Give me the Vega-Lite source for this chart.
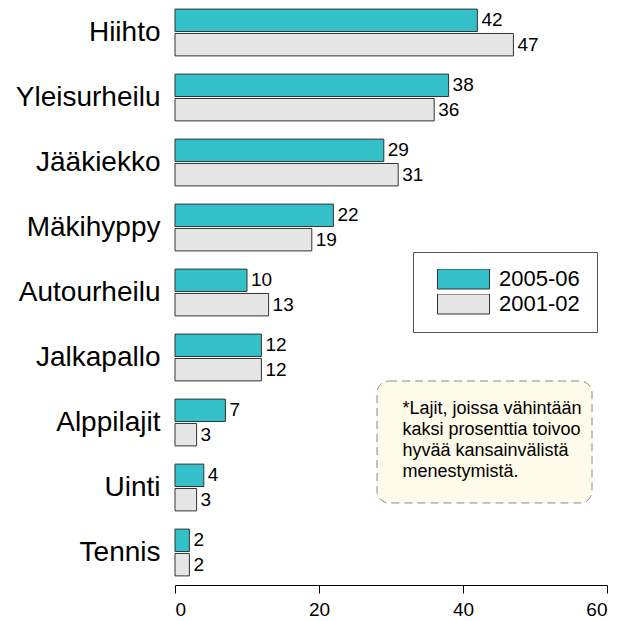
{
  "$schema": "https://vega.github.io/schema/vega-lite/v6.json",
  "width": 432,
  "height": 585,
  "autosize": {"type": "none"},
  "padding": {"left": 175, "top": 0, "right": 15, "bottom": 36},
  "background": "white",
  "config": {"view": {"stroke": null}, "font": "Liberation Sans"},
  "layer": [
    {
      "data": {"values": [{}]},
      "layer": [
        {
          "mark": {"type": "rect", "fill": "#FEFBEA", "stroke": "#888888", "strokeDash": [8, 5], "strokeWidth": 1, "cornerRadius": 12},
          "encoding": {
            "x": {"datum": 28.06, "type": "quantitative", "scale": {"domain": [0, 60], "nice": false}},
            "x2": {"datum": 57.92},
            "y": {"datum": 5.862, "type": "quantitative", "scale": {"domain": [0, 9], "reverse": true, "nice": false, "zero": false}, "axis": null},
            "y2": {"datum": 7.738}
          }
        },
        {
          "mark": {"type": "text", "text": ["*Lajit, joissa vähintään", "\u00a0kaksi prosenttia toivoo", "\u00a0hyvää kansainvälistä", "\u00a0menestymistä."], "align": "left", "baseline": "alphabetic", "fontSize": 18, "lineHeight": 21, "color": "black", "font": "Liberation Sans"},
          "encoding": {
            "x": {"datum": 31.6, "type": "quantitative"},
            "y": {"datum": 6.375, "type": "quantitative", "scale": {"domain": [0, 9], "reverse": true, "nice": false, "zero": false}, "axis": null}
          }
        }
      ]
    },
    {
      "data": {
        "values": [
          {"sport": "Hiihto", "period": "2005-06", "value": 42},
          {"sport": "Hiihto", "period": "2001-02", "value": 47},
          {"sport": "Yleisurheilu", "period": "2005-06", "value": 38},
          {"sport": "Yleisurheilu", "period": "2001-02", "value": 36},
          {"sport": "Jääkiekko", "period": "2005-06", "value": 29},
          {"sport": "Jääkiekko", "period": "2001-02", "value": 31},
          {"sport": "Mäkihyppy", "period": "2005-06", "value": 22},
          {"sport": "Mäkihyppy", "period": "2001-02", "value": 19},
          {"sport": "Autourheilu", "period": "2005-06", "value": 10},
          {"sport": "Autourheilu", "period": "2001-02", "value": 13},
          {"sport": "Jalkapallo", "period": "2005-06", "value": 12},
          {"sport": "Jalkapallo", "period": "2001-02", "value": 12},
          {"sport": "Alppilajit", "period": "2005-06", "value": 7},
          {"sport": "Alppilajit", "period": "2001-02", "value": 3},
          {"sport": "Uinti", "period": "2005-06", "value": 4},
          {"sport": "Uinti", "period": "2001-02", "value": 3},
          {"sport": "Tennis", "period": "2005-06", "value": 2},
          {"sport": "Tennis", "period": "2001-02", "value": 2}
        ]
      },
      "encoding": {
        "y": {
          "field": "sport", "type": "nominal",
          "sort": ["Hiihto", "Yleisurheilu", "Jääkiekko", "Mäkihyppy", "Autourheilu", "Jalkapallo", "Alppilajit", "Uinti", "Tennis"],
          "scale": {"paddingInner": 0.28, "paddingOuter": 0.14},
          "axis": {"title": null, "ticks": false, "domain": false, "labelFontSize": 28, "labelPadding": 15, "labelColor": "black", "labelFont": "Liberation Sans"}
        },
        "yOffset": {"field": "period", "type": "nominal", "sort": ["2005-06", "2001-02"], "scale": {"paddingInner": 0.08}},
        "x": {
          "field": "value", "type": "quantitative",
          "scale": {"domain": [0, 60], "nice": false},
          "axis": {"title": null, "values": [0, 20, 40, 60], "grid": false, "domainColor": "black", "tickColor": "black", "tickSize": 8, "labelFontSize": 19, "labelPadding": 7, "labelColor": "black", "labelFont": "Liberation Sans"}
        }
      },
      "layer": [
        {
          "mark": {"type": "bar", "stroke": "#333333", "strokeWidth": 1},
          "encoding": {
            "color": {
              "field": "period", "type": "nominal",
              "scale": {"domain": ["2005-06", "2001-02"], "range": ["#33C0C8", "#E6E6E6"]},
              "legend": {
                "title": null, "orient": "none", "legendX": 238, "legendY": 252,
                "fillColor": "white", "strokeColor": "#555555", "padding": 17,
                "symbolType": "M-1,-0.385H1V0.385H-1Z", "symbolSize": 2704,
                "symbolStrokeColor": "#333333", "symbolStrokeWidth": 1, "symbolOpacity": 1,
                "clipHeight": 20, "rowPadding": 3, "labelFontSize": 22, "labelOffset": 9,
                "symbolOffset": 7, "labelColor": "black", "labelFont": "Liberation Sans"
              }
            }
          }
        },
        {
          "mark": {"type": "text", "align": "left", "baseline": "middle", "dx": 4, "fontSize": 19, "color": "black", "font": "Liberation Sans"},
          "encoding": {"text": {"field": "value", "type": "quantitative"}}
        }
      ]
    }
  ],
  "resolve": {"scale": {"y": "independent"}}
}
